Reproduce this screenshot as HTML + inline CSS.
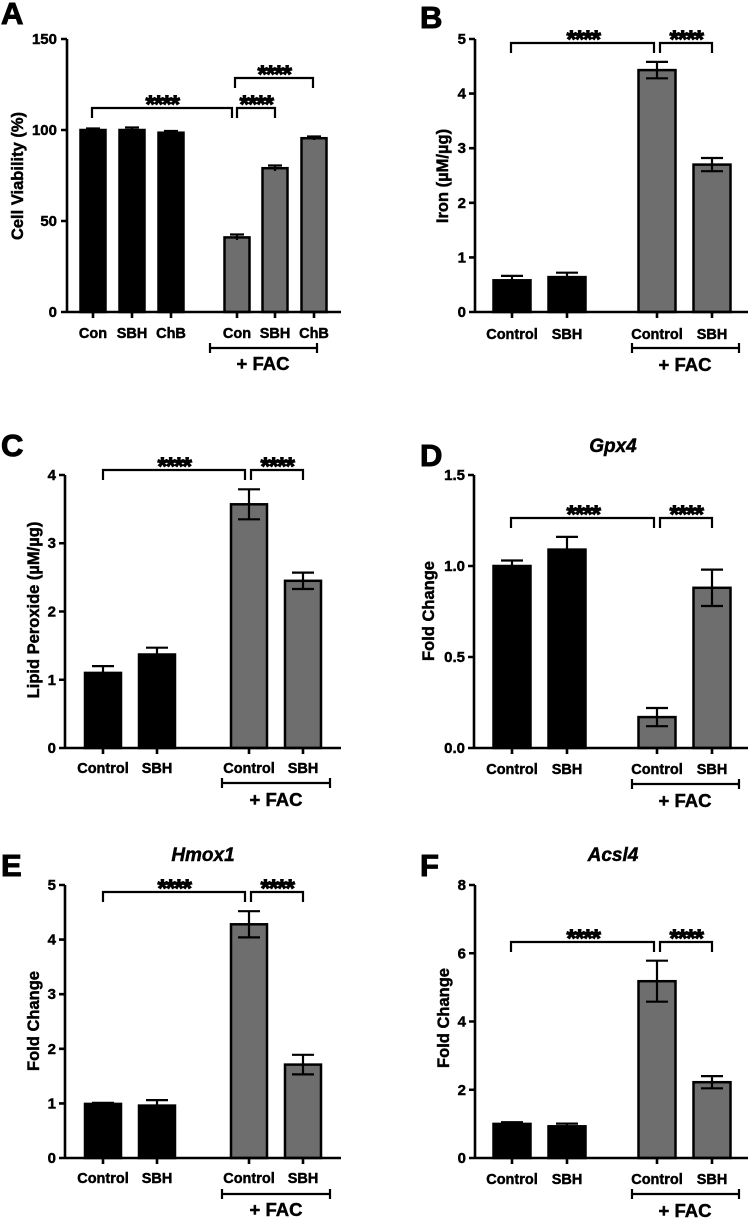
<!DOCTYPE html>
<html><head><meta charset="utf-8"><style>
html,body{margin:0;padding:0;background:#fff;}
svg{display:block;}
text{font-family:"Liberation Sans",Arial,sans-serif;font-weight:bold;fill:#000;stroke:#000;stroke-width:0.45;}
.t{font-size:14.5px;}
.tk{font-size:15px;}
.yl{font-size:16.5px;}
.st{font-size:25px;letter-spacing:-1.5px;stroke-width:1;}
.L{font-size:31px;stroke-width:1;}
.fac{font-size:18.5px;}
.ti{font-size:19px;font-style:italic;}
.ax{stroke:#000;stroke-width:2.6;fill:none;}
.br{stroke:#000;stroke-width:2.2;fill:none;}
.k{fill:#000;stroke:#000;stroke-width:2.5;}
.g{fill:#6e6e6e;stroke:#000;stroke-width:2.5;}
.e{stroke:#000;stroke-width:2.2;fill:none;}
</style></head><body>
<svg width="751" height="1219" viewBox="0 0 751 1219" xmlns="http://www.w3.org/2000/svg">

<!-- ===== A ===== -->
<text class="L" x="1" y="24">A</text>
<text class="yl" transform="translate(23,176) rotate(-90)" text-anchor="middle">Cell Viability (%)</text>
<rect class="k" x="80.5" y="130" width="25" height="182"/>
<rect class="k" x="119.5" y="130" width="25" height="182"/>
<rect class="k" x="158.5" y="132.7" width="25" height="179.3"/>
<rect class="g" x="224.5" y="237.4" width="25" height="74.6"/>
<rect class="g" x="262.5" y="168.2" width="25" height="143.8"/>
<rect class="g" x="301.5" y="138.2" width="25" height="173.8"/>
<path class="e" d="M86 128.5H100M93 128.5V131 M125 127.5H139M132 127.5V131 M164 131H178M171 131V133 M230 234.5H244M237 234.5V240 M268 165.5H282M275 165.5V171 M307 136.5H321M314 136.5V140"/>
<path class="ax" d="M67 39V312H341 M61 39H67 M61 221H67 M61 130H67 M61 312H67 M93 312V318 M132 312V318 M171 312V318 M237 312V318 M275 312V318 M314 312V318"/>
<text class="tk" x="57" y="44" text-anchor="end">150</text>
<text class="tk" x="57" y="135" text-anchor="end">100</text>
<text class="tk" x="57" y="226" text-anchor="end">50</text>
<text class="tk" x="57" y="317" text-anchor="end">0</text>
<text class="t" x="93" y="338" text-anchor="middle">Con</text>
<text class="t" x="132" y="338" text-anchor="middle">SBH</text>
<text class="t" x="171" y="338" text-anchor="middle">ChB</text>
<text class="t" x="237" y="338" text-anchor="middle">Con</text>
<text class="t" x="275" y="338" text-anchor="middle">SBH</text>
<text class="t" x="314" y="338" text-anchor="middle">ChB</text>
<path class="br" d="M210 343V353M210 348H317M317 343V353"/>
<text class="fac" x="263" y="370" text-anchor="middle">+ FAC</text>
<path class="br" d="M92 118V108H232V118 M237 118V108H275V118 M235 88V78H313V88"/>
<text class="st" x="162" y="113" text-anchor="middle">****</text>
<text class="st" x="256" y="113" text-anchor="middle">****</text>
<text class="st" x="274" y="83" text-anchor="middle">****</text>

<!-- ===== B ===== -->
<text class="L" x="420" y="28">B</text>
<text class="yl" transform="translate(448,176) rotate(-90)" text-anchor="middle">Iron (µM/µg)</text>
<rect class="k" x="493.5" y="280.3" width="37" height="31.7"/>
<rect class="k" x="548.5" y="277.1" width="37" height="34.9"/>
<rect class="g" x="638.5" y="70.1" width="37" height="241.9"/>
<rect class="g" x="693.5" y="164.6" width="37" height="147.4"/>
<path class="e" d="M501 275.9H523M512 275.9V281 M556 272.7H578M567 272.7V278 M646 61.9H668M657 61.9V78.3M646 78.3H668 M701 158H723M712 158V171.2M701 171.2H723"/>
<path class="ax" d="M475 39V312H748 M469 39H475 M469 93.6H475 M469 148.2H475 M469 202.8H475 M469 257.4H475 M469 312H475 M512 312V318 M567 312V318 M657 312V318 M712 312V318"/>
<text class="tk" x="466" y="44" text-anchor="end">5</text>
<text class="tk" x="466" y="98.6" text-anchor="end">4</text>
<text class="tk" x="466" y="153.2" text-anchor="end">3</text>
<text class="tk" x="466" y="207.8" text-anchor="end">2</text>
<text class="tk" x="466" y="262.4" text-anchor="end">1</text>
<text class="tk" x="466" y="317" text-anchor="end">0</text>
<text class="t" x="512" y="339" text-anchor="middle">Control</text>
<text class="t" x="567" y="339" text-anchor="middle">SBH</text>
<text class="t" x="657" y="339" text-anchor="middle">Control</text>
<text class="t" x="712" y="339" text-anchor="middle">SBH</text>
<path class="br" d="M632 343V353M632 348H739M739 343V353"/>
<text class="fac" x="685" y="371" text-anchor="middle">+ FAC</text>
<path class="br" d="M511 53V43H654V53 M660 53V43H712V53"/>
<text class="st" x="583" y="48" text-anchor="middle">****</text>
<text class="st" x="686" y="48" text-anchor="middle">****</text>

<!-- ===== C ===== -->
<text class="L" x="1" y="456">C</text>
<text class="yl" transform="translate(39,610) rotate(-90)" text-anchor="middle">Lipid Peroxide (µM/µg)</text>
<rect class="k" x="85" y="672.9" width="36" height="75.1"/>
<rect class="k" x="139" y="654.5" width="36" height="93.5"/>
<rect class="g" x="231" y="504.3" width="36" height="243.7"/>
<rect class="g" x="285" y="580.8" width="36" height="167.2"/>
<path class="e" d="M92 666.1H114M103 666.1V673 M146 647.7H168M157 647.7V655 M238 489.3H260M249 489.3V519.3M238 519.3H260 M292 572.6H314M303 572.6V589M292 589H314"/>
<path class="ax" d="M65 475V748H341 M59 475H65 M59 543.25H65 M59 611.5H65 M59 679.75H65 M59 748H65 M103 748V754 M157 748V754 M249 748V754 M303 748V754"/>
<text class="tk" x="56" y="480" text-anchor="end">4</text>
<text class="tk" x="56" y="548" text-anchor="end">3</text>
<text class="tk" x="56" y="616.5" text-anchor="end">2</text>
<text class="tk" x="56" y="684.75" text-anchor="end">1</text>
<text class="tk" x="56" y="753" text-anchor="end">0</text>
<text class="t" x="103" y="773" text-anchor="middle">Control</text>
<text class="t" x="157" y="773" text-anchor="middle">SBH</text>
<text class="t" x="249" y="773" text-anchor="middle">Control</text>
<text class="t" x="303" y="773" text-anchor="middle">SBH</text>
<path class="br" d="M222 778V788M222 783H330M330 778V788"/>
<text class="fac" x="276" y="806" text-anchor="middle">+ FAC</text>
<path class="br" d="M103 480V470H245V480 M251 480V470H303V480"/>
<text class="st" x="174" y="475" text-anchor="middle">****</text>
<text class="st" x="277" y="475" text-anchor="middle">****</text>

<!-- ===== D ===== -->
<text class="L" x="420" y="466">D</text>
<text class="ti" x="613" y="452" text-anchor="middle">Gpx4</text>
<text class="yl" transform="translate(434,611) rotate(-90)" text-anchor="middle">Fold Change</text>
<rect class="k" x="493.5" y="566" width="37" height="182"/>
<rect class="k" x="548.5" y="549.6" width="37" height="198.4"/>
<rect class="g" x="638.5" y="717.1" width="37" height="30.9"/>
<rect class="g" x="693.5" y="587.8" width="37" height="160.2"/>
<path class="e" d="M501 560.5H523M512 560.5V567 M556 536.9H578M567 536.9V550 M646 708H668M657 708V726.2M646 726.2H668 M701 569.6H723M712 569.6V606M701 606H723"/>
<path class="ax" d="M474 475V748H748 M468 475H474 M468 566H474 M468 657H474 M468 748H474 M512 748V754 M567 748V754 M657 748V754 M712 748V754"/>
<text class="tk" x="465" y="480" text-anchor="end">1.5</text>
<text class="tk" x="465" y="571" text-anchor="end">1.0</text>
<text class="tk" x="465" y="662" text-anchor="end">0.5</text>
<text class="tk" x="465" y="753" text-anchor="end">0.0</text>
<text class="t" x="512" y="774" text-anchor="middle">Control</text>
<text class="t" x="567" y="774" text-anchor="middle">SBH</text>
<text class="t" x="657" y="774" text-anchor="middle">Control</text>
<text class="t" x="712" y="774" text-anchor="middle">SBH</text>
<path class="br" d="M632 779V789M632 784H739M739 779V789"/>
<text class="fac" x="685" y="807" text-anchor="middle">+ FAC</text>
<path class="br" d="M511 528V518H654V528 M660 528V518H712V528"/>
<text class="st" x="583" y="523" text-anchor="middle">****</text>
<text class="st" x="686" y="523" text-anchor="middle">****</text>

<!-- ===== E ===== -->
<text class="L" x="1" y="876">E</text>
<text class="ti" x="203" y="861" text-anchor="middle">Hmox1</text>
<text class="yl" transform="translate(39,1021) rotate(-90)" text-anchor="middle">Fold Change</text>
<rect class="k" x="85" y="1103.9" width="36" height="54.1"/>
<rect class="k" x="139" y="1105.6" width="36" height="52.4"/>
<rect class="g" x="231" y="924.3" width="36" height="233.7"/>
<rect class="g" x="285" y="1064.6" width="36" height="93.4"/>
<path class="e" d="M92 1102.8H114M103 1102.8V1105 M146 1100.1H168M157 1100.1V1106 M238 911.2H260M249 911.2V937.4M238 937.4H260 M292 1054.8H314M303 1054.8V1074.4M292 1074.4H314"/>
<path class="ax" d="M65 885V1158H341 M59 885H65 M59 939.6H65 M59 994.2H65 M59 1048.8H65 M59 1103.4H65 M59 1158H65 M103 1158V1164 M157 1158V1164 M249 1158V1164 M303 1158V1164"/>
<text class="tk" x="56" y="890" text-anchor="end">5</text>
<text class="tk" x="56" y="944.6" text-anchor="end">4</text>
<text class="tk" x="56" y="999.2" text-anchor="end">3</text>
<text class="tk" x="56" y="1053.8" text-anchor="end">2</text>
<text class="tk" x="56" y="1108.4" text-anchor="end">1</text>
<text class="tk" x="56" y="1163" text-anchor="end">0</text>
<text class="t" x="103" y="1183" text-anchor="middle">Control</text>
<text class="t" x="157" y="1183" text-anchor="middle">SBH</text>
<text class="t" x="249" y="1183" text-anchor="middle">Control</text>
<text class="t" x="303" y="1183" text-anchor="middle">SBH</text>
<path class="br" d="M222 1189V1199M222 1194H330M330 1189V1199"/>
<text class="fac" x="276" y="1216" text-anchor="middle">+ FAC</text>
<path class="br" d="M103 902V892H245V902 M251 902V892H303V902"/>
<text class="st" x="174" y="897" text-anchor="middle">****</text>
<text class="st" x="277" y="897" text-anchor="middle">****</text>

<!-- ===== F ===== -->
<text class="L" x="420" y="876">F</text>
<text class="ti" x="613" y="861" text-anchor="middle">Acsl4</text>
<text class="yl" transform="translate(449,1018) rotate(-90)" text-anchor="middle">Fold Change</text>
<rect class="k" x="493.5" y="1123.9" width="37" height="34.1"/>
<rect class="k" x="548.5" y="1126.3" width="37" height="31.7"/>
<rect class="g" x="638.5" y="981.2" width="37" height="176.8"/>
<rect class="g" x="693.5" y="1082.2" width="37" height="75.8"/>
<path class="e" d="M501 1122.2H523M512 1122.2V1125 M556 1123.6H578M567 1123.6V1127 M646 960.7H668M657 960.7V1001.7M646 1001.7H668 M701 1076.1H723M712 1076.1V1088.3M701 1088.3H723"/>
<path class="ax" d="M475 885V1158H748 M469 885H475 M469 953.25H475 M469 1021.5H475 M469 1089.75H475 M469 1158H475 M512 1158V1164 M567 1158V1164 M657 1158V1164 M712 1158V1164"/>
<text class="tk" x="466" y="890" text-anchor="end">8</text>
<text class="tk" x="466" y="958.25" text-anchor="end">6</text>
<text class="tk" x="466" y="1026.5" text-anchor="end">4</text>
<text class="tk" x="466" y="1094.75" text-anchor="end">2</text>
<text class="tk" x="466" y="1163" text-anchor="end">0</text>
<text class="t" x="512" y="1184" text-anchor="middle">Control</text>
<text class="t" x="567" y="1184" text-anchor="middle">SBH</text>
<text class="t" x="657" y="1184" text-anchor="middle">Control</text>
<text class="t" x="712" y="1184" text-anchor="middle">SBH</text>
<path class="br" d="M632 1189V1199M632 1194H739M739 1189V1199"/>
<text class="fac" x="685" y="1217" text-anchor="middle">+ FAC</text>
<path class="br" d="M511 952V942H654V952 M660 952V942H712V952"/>
<text class="st" x="583" y="947" text-anchor="middle">****</text>
<text class="st" x="686" y="947" text-anchor="middle">****</text>
</svg>
</body></html>
